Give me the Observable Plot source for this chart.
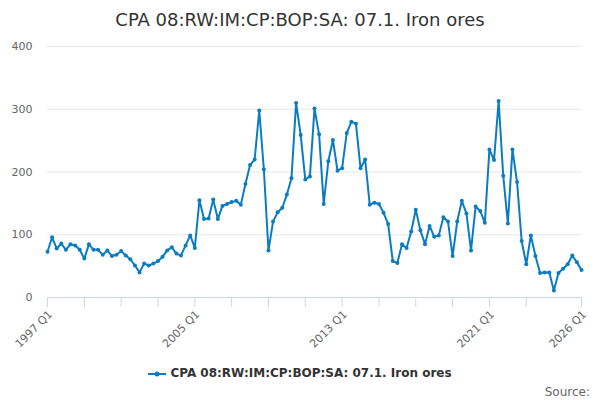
<!DOCTYPE html>
<html>
<head>
<meta charset="utf-8">
<script src="https://cdn.jsdelivr.net/npm/d3@7"></script>
<script src="https://cdn.jsdelivr.net/npm/@observablehq/plot@0.6"></script>
<style>
  html, body { margin: 0; padding: 0; background: #fff; }
  #wrap { position: relative; width: 600px; height: 400px; font-family: "DejaVu Sans", sans-serif; overflow: hidden; }
  #title { position: absolute; left: 0; top: 9px; width: 600px; text-align: center; font-size: 18px; color: #333; }
  #chart { position: absolute; left: 0; top: 36px; }
  #legend { position: absolute; left: 0; top: 366px; width: 600px; text-align: center; font-size: 12px; font-weight: bold; color: #333; }
  #legend svg { vertical-align: middle; margin-right: 4px; }
  #source { position: absolute; right: 10px; top: 385px; font-size: 12px; color: #666; }
</style>
</head>
<body>
<div id="wrap">
  <div id="title">CPA 08:RW:IM:CP:BOP:SA: 07.1. Iron ores</div>
  <div id="chart"></div>
  <div id="legend"><svg width="18" height="10"><line x1="0" y1="5" x2="18" y2="5" stroke="#0b7cc1" stroke-width="2"/><circle cx="9" cy="5" r="2.5" fill="#0b7cc1"/></svg>CPA 08:RW:IM:CP:BOP:SA: 07.1. Iron ores</div>
  <div id="source">Source:</div>
</div>
<script>
const seriesName = "CPA 08:RW:IM:CP:BOP:SA: 07.1. Iron ores";
const startYear = 1997;
const values = [
  73, 96, 78, 86, 76, 85, 83, 76, 62, 85,
  76, 76, 68, 75, 66, 68, 74, 67, 61, 51,
  40, 54, 51, 54, 58, 65, 75, 80, 70, 67,
  83, 99, 79, 155, 125, 126, 156, 125, 146, 149,
  152, 154, 148, 181, 211, 220, 298, 204, 75, 121,
  136, 143, 164, 190, 310, 259, 188, 193, 301, 260,
  149, 217, 251, 202, 206, 262, 280, 277, 206, 220,
  148, 151, 149, 135, 117, 58, 55, 85, 79, 105,
  140, 107, 85, 114, 97, 99, 128, 121, 66, 121,
  154, 134, 75, 145, 138, 119, 236, 219, 313, 194,
  118, 236, 184, 90, 53, 99, 66, 39, 40, 40,
  11, 39, 46, 53, 67, 56, 44
];
const quarters = values.map((_, i) => `${startYear + Math.floor(i / 4)} Q${(i % 4) + 1}`);
const tickLabels = ["1997 Q1", "2005 Q1", "2013 Q1", "2021 Q1", "2026 Q1"];
const minorTickLabels = ["1997 Q1","1999 Q1","2001 Q1","2003 Q1","2005 Q1","2007 Q1","2009 Q1","2011 Q1","2013 Q1","2015 Q1","2017 Q1","2019 Q1","2021 Q1","2023 Q1","2026 Q1"];
const yTicks = [0, 100, 200, 300, 400];

const toPos = (q) => { const [y, qq] = q.split(" Q"); return +y + (+qq - 1) / 4; };
const data = quarters.map((q, i) => ({ q, t: toPos(q), v: values[i] }));
const color = "#0b7cc1";

const chart = Plot.plot({
  width: 600,
  height: 320,
  marginTop: 10,
  marginBottom: 59,
  marginLeft: 47,
  marginRight: 19,
  style: { fontFamily: "DejaVu Sans, sans-serif", fontSize: "11px", color: "#666", background: "#fff" },
  x: { domain: [toPos("1997 Q1"), toPos("2026 Q1")] },
  y: { domain: [0, 400] },
  marks: [
    Plot.gridY(yTicks, { stroke: "#e6e6e6", strokeOpacity: 1 }),
    Plot.axisY(yTicks, { tickSize: 0, tickPadding: 15, label: null, fill: "#666", fontSize: 11 }),
    Plot.ruleY([0], { stroke: "#ccd6eb" }),
    Plot.axisX(minorTickLabels.map(toPos), { tickSize: 10, stroke: "#ccd6eb", tickFormat: () => "", label: null }),
    Plot.axisX(tickLabels.map(toPos), {
      tickSize: 0, tickPadding: 15, tickRotate: -45, label: null, dx: 3,
      tickFormat: (d) => tickLabels.find(l => Math.abs(toPos(l) - d) < 1e-6),
      fill: "#666", fontSize: 11
    }),
    Plot.line(data, { x: "t", y: "v", stroke: color, strokeWidth: 2 }),
    Plot.dot(data, { x: "t", y: "v", r: 2, fill: color })
  ]
});
document.getElementById("chart").appendChild(chart);
</script>
</body>
</html>
